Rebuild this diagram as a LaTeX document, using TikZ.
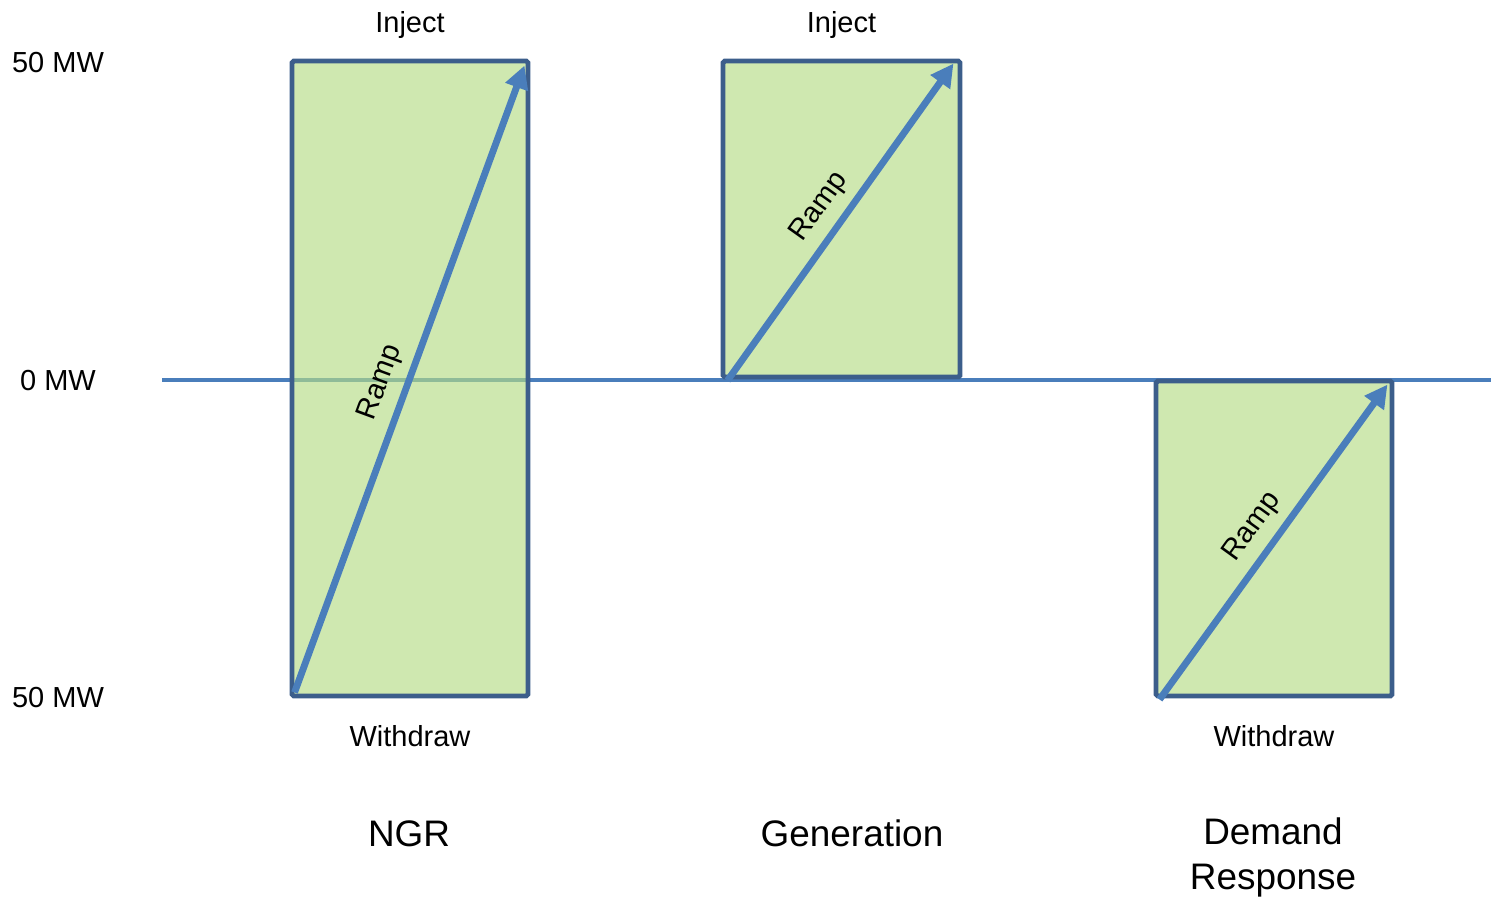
\documentclass[tikz,border=0pt]{standalone}
\usepackage{fontspec}
\setmainfont{Liberation Sans}
\usetikzlibrary{arrows.meta,positioning,calc}
\definecolor{rampblue}{RGB}{74,126,187}
\definecolor{boxedge}{RGB}{60,94,139}
\definecolor{boxgreen}{RGB}{181,220,134}
\tikzset{
    mwbox/.style={rectangle, draw=boxedge, line width=2.8pt, fill=boxgreen, fill opacity=0.65, text opacity=1, rounded corners=1pt, inner sep=0pt},
    ramp/.style={draw=rampblue, line width=3.9pt, -{Triangle[length=13pt,width=13pt]}},
    zeroline/.style={draw=rampblue, line width=1.9pt},
    lbl/.style={font=\fontsize{16.5}{19.8}\selectfont, anchor=base},
    ramplbl/.style={font=\fontsize{16.5}{19.8}\selectfont, sloped, above=2pt},
    bigtext/.style={font=\fontsize{21}{25.6}\selectfont, align=center}
}
\begin{document}
\begin{tikzpicture}
    \useasboundingbox (0,0) rectangle (29.82,-17.94);

    % Zero line
    \coordinate (axisL) at (3.24,-7.6);
    \coordinate (axisR) at (29.82,-7.6);
    \path [zeroline] (axisL) -- (axisR);

    % Scale labels
    \node [lbl] (top) at (1.16,-1.45) {50 MW};
    \node [lbl] (zero) at (1.16,-7.81) {0 MW};
    \node [lbl] (bot) at (1.16,-14.15) {50 MW};

    % Boxes
    \node [mwbox, minimum width=4.72cm, minimum height=12.7cm] (ngr) at (8.2,-7.57) {};
    \node [mwbox, minimum width=4.74cm, minimum height=6.32cm] (gen) at (16.83,-4.38) {};
    \node [mwbox, minimum width=4.72cm, minimum height=6.3cm] (dr) at (25.48,-10.77) {};

    % Ramps
    \path [ramp] ([shift={(0.1,0.12)}]ngr.south west) -- node [ramplbl, pos=0.48] {Ramp} ([shift={(-0.12,-0.14)}]ngr.north east);
    \path [ramp] ([shift={(0.14,-0.02)}]gen.south west) -- node [ramplbl, pos=0.5] {Ramp} ([shift={(-0.18,-0.1)}]gen.north east);
    \path [ramp] ([shift={(0.12,-0.02)}]dr.south west) -- node [ramplbl, pos=0.5] {Ramp} ([shift={(-0.14,-0.12)}]dr.north east);

    % Inject / Withdraw
    \node [lbl] (injngr) at ([yshift=0.52cm]ngr.north) {Inject};
    \node [lbl] (injgen) at ([yshift=0.52cm]gen.north) {Inject};
    \node [lbl] (wdngr) at ([yshift=-0.96cm]ngr.south) {Withdraw};
    \node [lbl] (wddr) at ([yshift=-0.96cm]dr.south) {Withdraw};

    % Names
    \node [bigtext, anchor=base] (ngrname) at (8.18,-16.92) {NGR};
    \node [bigtext, anchor=base] (genname) at (17.04,-16.92) {Generation};
    \node [bigtext, anchor=north] (drname) at (25.46,-16.24) {Demand\\Response};
\end{tikzpicture}
\end{document}
